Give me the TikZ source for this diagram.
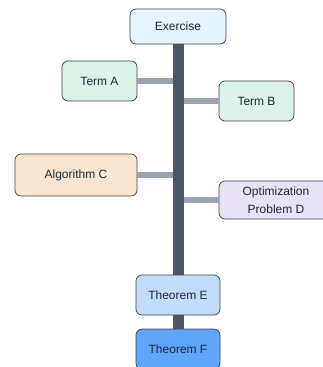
\documentclass[tikz,border=0pt]{standalone}
\usepackage{fontspec}
\setmainfont{Liberation Sans}
\definecolor{spinegray}{HTML}{4B5563}
\definecolor{branchgray}{HTML}{9CA3AF}
\definecolor{boxline}{HTML}{3F3F46}
\definecolor{textdark}{HTML}{1F2937}
\definecolor{exfill}{HTML}{E8F4FD}
\definecolor{termfill}{HTML}{DDF3EA}
\definecolor{algofill}{HTML}{FAE6D0}
\definecolor{optfill}{HTML}{E7E2F6}
\definecolor{thmfill}{HTML}{C2DCFB}
\definecolor{thmdark}{HTML}{60A5FA}

\begin{document}
\begin{tikzpicture}[x=1pt,y=-1pt, box/.style={draw=boxline, line width=0.7pt, rounded corners=6pt, text=textdark, font=\fontsize{12}{18}\selectfont, align=center, inner sep=0pt}, spine/.style={spinegray, line width=11pt}, branch/.style={branchgray, line width=6pt}]
\useasboundingbox (0,0) rectangle (323,367);
\node[box, fill=exfill, minimum width=96pt, minimum height=35pt] (exercise) at (178,26.5) {Exercise};
\node[box, fill=termfill, minimum width=75pt, minimum height=40pt] (termA) at (99.5,81) {Term A};
\node[box, fill=termfill, minimum width=75pt, minimum height=40pt] (termB) at (256.5,101) {Term B};
\node[box, fill=algofill, minimum width=122pt, minimum height=42pt] (algoC) at (76,175) {Algorithm C};
\node[box, fill=optfill, minimum width=114pt, minimum height=38pt] (optD) at (276,200) {Optimization\\Problem D};
\node[box, fill=thmfill, minimum width=84pt, minimum height=40pt] (thmE) at (178,295) {Theorem E};
\node[box, fill=thmdark, minimum width=84pt, minimum height=40pt] (thmF) at (178,349) {Theorem F};
% branches first, spine over them
\draw[branch] (termA.east) -- (termA.east -| exercise.south);
\draw[branch] (termB.west) -- (termB.west -| exercise.south);
\draw[branch] (algoC.east) -- (algoC.east -| exercise.south);
\draw[branch] (optD.west) -- (optD.west -| exercise.south);
\draw[spine] (exercise.south) -- (thmE.north);
\draw[spine] (thmE.south) -- (thmF.north);
\end{tikzpicture}
\end{document}
